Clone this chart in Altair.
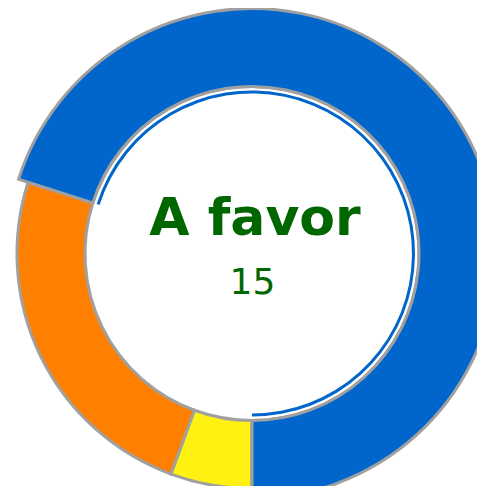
import math
import altair as alt
import pandas as pd

# data
categories = ["Abstención", "En contra", "A favor"]
values = [1.2, 5.2, 15]
order_idx = [0, 1, 2]
colors = ["#FFF212", "#FF8000", "#0066CC"]

df = pd.DataFrame({"category": categories, "value": values, "idx": order_idx})

base = alt.Chart(df)

theta = alt.Theta("value:Q", stack=True, scale=alt.Scale(range=[math.pi, 3 * math.pi]))
order = alt.Order("idx:Q", sort="ascending")
cx, cy = 244, 245.5
is_fav = "datum.category == 'A favor'"

donut = base.mark_arc(stroke="#A0A0A0", strokeWidth=3).encode(
    theta=theta,
    radius=alt.value(235),
    radius2=alt.value(167),
    color=alt.Color("category:N", scale=alt.Scale(domain=categories, range=colors), legend=None),
    order=order,
    x=alt.value(cx),
    y=alt.value(cy),
)

big = base.mark_arc(strokeWidth=3).encode(
    theta=theta,
    radius=alt.value(245),
    radius2=alt.value(167),
    fill=alt.condition(is_fav, alt.value("#0066CC"), alt.value("transparent")),
    stroke=alt.condition(is_fav, alt.value("#A0A0A0"), alt.value("transparent")),
    order=order,
    x=alt.value(cx),
    y=alt.value(cy),
)

highlight = base.mark_arc().encode(
    theta=theta,
    radius=alt.value(163),
    radius2=alt.value(160),
    fill=alt.condition(is_fav, alt.value("#0066CC"), alt.value("transparent")),
    order=order,
    x=alt.value(cx),
    y=alt.value(cy),
)

label = base.transform_filter(is_fav).mark_text(
    font="DejaVu Sans", fontWeight="bold", fontSize=52, color="#006600",
    baseline="alphabetic", align="center"
).encode(text="category:N", x=alt.value(247), y=alt.value(227))

num = base.transform_filter(is_fav).mark_text(
    font="DejaVu Sans", fontSize=36, color="#006600",
    baseline="alphabetic", align="center"
).encode(text="value:Q", x=alt.value(244.5), y=alt.value(286))

chart = alt.layer(donut, big, highlight, label, num).properties(
    width=469, height=478, padding=0,
    autosize=alt.AutoSizeParams(type="none"),
).configure_view(strokeWidth=0)

chart.save("out.html", embed_options={"renderer": "svg", "actions": False})
